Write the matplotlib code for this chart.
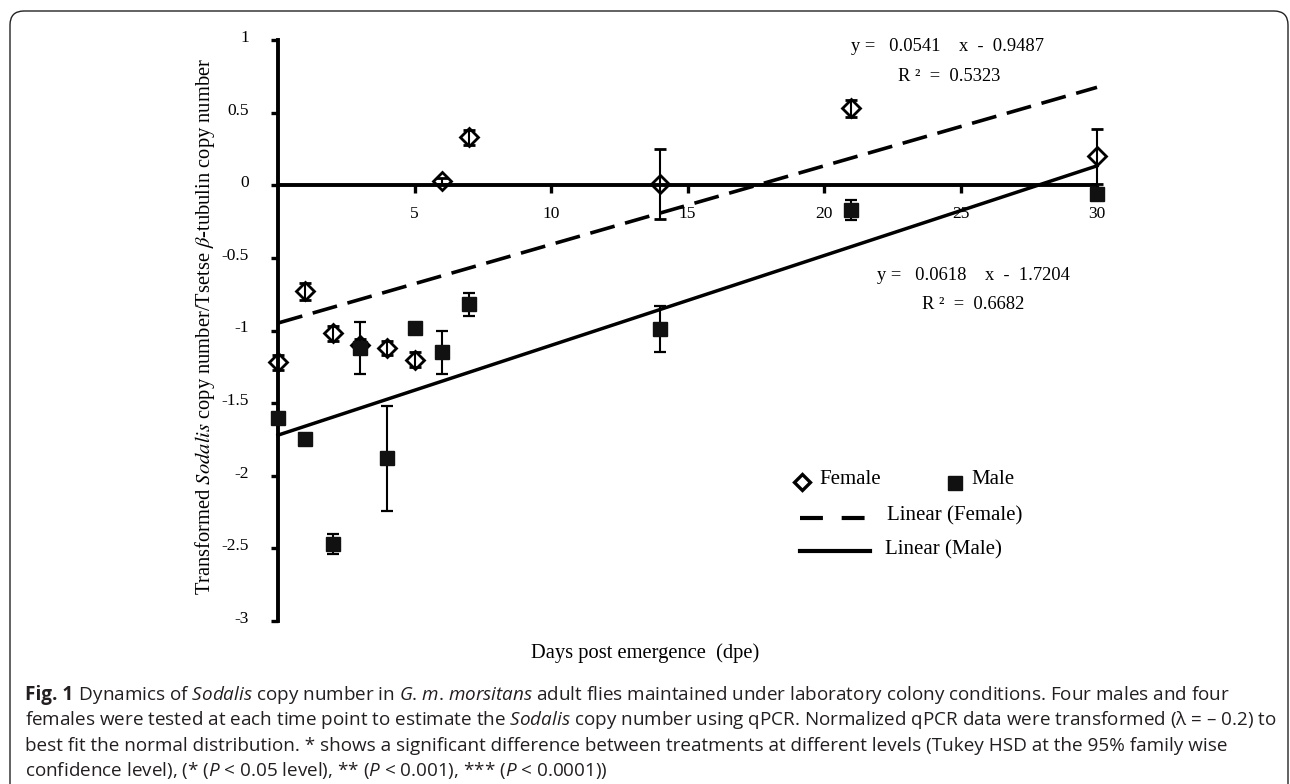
import matplotlib
matplotlib.use('Agg')
import matplotlib.pyplot as plt
from matplotlib.lines import Line2D
from matplotlib.patches import FancyBboxPatch
from matplotlib.transforms import ScaledTranslation
import numpy as np

plt.rcParams['font.family'] = ['Liberation Serif', 'DejaVu Serif']
plt.rcParams['axes.unicode_minus'] = False
plt.rcParams['mathtext.fontset'] = 'custom'
plt.rcParams['mathtext.rm'] = 'Open Sans'
plt.rcParams['mathtext.it'] = 'Open Sans:italic'
plt.rcParams['mathtext.bf'] = 'Open Sans:bold'

# days post emergence and transformed copy number (mean, error)
days = [0, 1, 2, 3, 4, 5, 6, 7, 14, 21, 30]
female_mean = [-1.22, -0.73, -1.02, -1.10, -1.12, -1.20, 0.03, 0.33, 0.01, 0.53, 0.20]
female_err = [0.05, 0.06, 0.05, 0.04, 0.05, 0.05, 0.02, 0.05, 0.24, 0.06, 0.19]
male_mean = [-1.60, -1.75, -2.47, -1.12, -1.88, -0.98, -1.15, -0.82, -0.99, -0.17, -0.06]
male_err = [0.03, 0.02, 0.07, 0.18, 0.36, 0.03, 0.15, 0.08, 0.16, 0.07, 0.04]

# linear trend lines: slope, intercept, R^2
female_fit = (0.0541, -0.9487, 0.5323)
male_fit = (0.0618, -1.7204, 0.6682)

x_ticks = [5, 10, 15, 20, 25, 30]
y_ticks = [1, 0.5, 0, -0.5, -1, -1.5, -2, -2.5, -3]
y_ticklabels = ['1', '0.5', '0', '-0.5', '-1', '-1.5', '-2', '-2.5', '-3']

caption_head = 'Fig. 1'
caption_lines = [
    r' Dynamics of $\mathit{Sodalis}$ copy number in $\mathit{G}$. $\mathit{m}$. $\mathit{morsitans}$ adult flies maintained under laboratory colony conditions. Four males and four',
    r'females were tested at each time point to estimate the $\mathit{Sodalis}$ copy number using qPCR. Normalized qPCR data were transformed (λ = – 0.2) to',
    r'best fit the normal distribution. * shows a significant difference between treatments at different levels (Tukey HSD at the 95% family wise',
    r'confidence level), (* ($\mathit{P}$ < 0.05 level), ** ($\mathit{P}$ < 0.001), *** ($\mathit{P}$ < 0.0001))',
]

W, H = 1290, 784
fig = plt.figure(figsize=(W / 100, H / 100), dpi=100)


def fx(px):
    return px / W


def fy(py):
    return 1 - py / H


# rounded frame around the figure
frame = FancyBboxPatch((10, -30), 1278, H - 11 + 30, boxstyle='round,pad=0,rounding_size=14',
                       transform=None, fill=False, lw=1.0, ec='#222222')
fig.add_artist(frame)

ax = fig.add_axes([fx(278), fy(621), fx(1097) - fx(278), fy(40) - fy(621)])
ax.set_xlim(0, 30)
ax.set_ylim(-3, 1)
for side in ['top', 'right']:
    ax.spines[side].set_visible(False)
ax.spines['bottom'].set_position(('data', 0))
ax.spines['bottom'].set_linewidth(2.8)
ax.spines['left'].set_linewidth(2.8)
ax.spines['bottom'].set_capstyle('butt')

ax.set_xticks(x_ticks)
ax.set_xticklabels([str(t) for t in x_ticks])
ax.set_yticks(y_ticks)
ax.set_yticklabels(y_ticklabels)
ax.tick_params(axis='x', direction='out', length=6, width=2.4, pad=9, labelsize=12.5)
ax.tick_params(axis='y', direction='out', length=5, width=2.4, pad=16, labelsize=12.5)
lift = ScaledTranslation(0, 4 / 100, fig.dpi_scale_trans)
for lab in ax.get_yticklabels():
    lab.set_transform(lab.get_transform() + lift)

# trend lines
xx = np.array([0, 30])
ax.plot(xx, female_fit[0] * xx + female_fit[1], color='k', lw=2.6, dashes=(7, 3), clip_on=False, zorder=3)
ax.plot(xx, male_fit[0] * xx + male_fit[1], color='k', lw=2.5, clip_on=False, zorder=3)

# means with error bars
ax.errorbar(days, female_mean, yerr=female_err, fmt='D', mfc='none', mec='k', mew=2.0, ms=9.5,
            ecolor='k', elinewidth=1.5, capsize=4, capthick=1.6, clip_on=False, zorder=4)
ax.errorbar(days, male_mean, yerr=male_err, fmt='s', mfc='#111111', mec='#111111', ms=10,
            ecolor='k', elinewidth=1.5, capsize=4, capthick=1.6, clip_on=False, zorder=4)

# trend equations
ax.text(21.0, 0.955, 'y =   %.4f    x  -  %.4f' % (female_fit[0], -female_fit[1]), fontsize=13.3, va='center')
ax.text(22.7, 0.75, 'R ²  =  %.4f' % female_fit[2], fontsize=13.3, va='center')
ax.text(21.95, -0.62, 'y =   %.4f    x  -  %.4f' % (male_fit[0], -male_fit[1]), fontsize=13.3, va='center')
ax.text(23.6, -0.82, 'R ²  =  %.4f' % male_fit[2], fontsize=13.3, va='center')

# legend
fig.add_artist(Line2D([fx(802)], [fy(482)], marker='D', ms=8, mfc='white', mec='k', mew=2.4,
                      transform=fig.transFigure))
fig.text(fx(819), fy(480), 'Female', fontsize=15, va='center')
fig.add_artist(Line2D([fx(955)], [fy(483)], marker='s', ms=10, mfc='#111111', mec='#111111',
                      transform=fig.transFigure))
fig.text(fx(971), fy(480), 'Male', fontsize=15, va='center')
fig.add_artist(Line2D([fx(800), fx(873)], [fy(518), fy(518)], color='k', lw=3.0, dashes=(5.5, 4.5),
                      transform=fig.transFigure))
fig.text(fx(887), fy(516), 'Linear (Female)', fontsize=15, va='center')
fig.add_artist(Line2D([fx(800), fx(870)], [fy(551), fy(551)], color='k', lw=3.0,
                      transform=fig.transFigure))
fig.text(fx(885), fy(550), 'Linear (Male)', fontsize=15, va='center')

# axis titles
ylab = fig.text(fx(205), fy(326), r'Transformed $\mathit{Sodalis}$ copy number/Tsetse $\mathit{\beta}$-tubulin copy number',
                rotation=90, ha='center', va='center', fontsize=14.8)
ylab.set_math_fontfamily('stix')
fig.text(fx(645), fy(653), 'Days post emergence  (dpe)', ha='center', va='center', fontsize=14.8)

# caption, bold figure number followed by the running text
renderer = fig.canvas.get_renderer()
cap_kw = dict(family='Open Sans', fontsize=13.6, color='#231f20', va='center', ha='left')
head = fig.text(fx(25), fy(695), caption_head, weight='bold', **cap_kw)
head_end = head.get_window_extent(renderer).x1
fig.text(head_end / W + fx(1), fy(695), caption_lines[0], **cap_kw)
for i, line in enumerate(caption_lines[1:], start=1):
    fig.text(fx(25), fy(695 + 25.3 * i), line, **cap_kw)

fig.savefig('out.png', dpi=100)
